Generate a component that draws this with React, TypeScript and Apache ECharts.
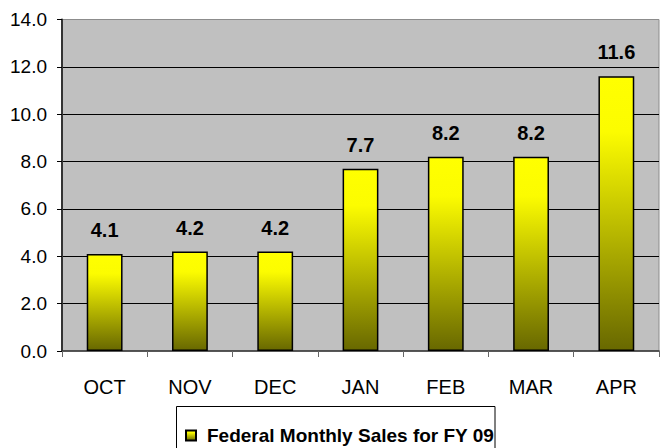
import React, { useEffect, useRef } from "react";
import * as echarts from "echarts";

const categories = ["OCT", "NOV", "DEC", "JAN", "FEB", "MAR", "APR"];
const salesValues = [4.1, 4.2, 4.2, 7.7, 8.2, 8.2, 11.6];
const seriesName = "Federal Monthly Sales for FY 09";
const yMin = 0;
const yMax = 14;
const yInterval = 2;

const FONT = "'Liberation Sans Narrow', 'Arial Narrow', 'Liberation Sans', Arial, sans-serif";

export default function App() {
  const ref = useRef<HTMLDivElement>(null);
  useEffect(() => {
    if (!ref.current) return;
    const chart = echarts.init(ref.current, undefined, { renderer: "svg" });
    const barGradient = new echarts.graphic.LinearGradient(0, 0, 0, 1, [
      { offset: 0, color: "#FFFF00" },
      { offset: 0.2, color: "#FCFC00" },
      { offset: 1, color: "#686800" },
    ]);
    chart.setOption({
      animation: false,
      backgroundColor: "#FFFFFF",
      textStyle: { fontFamily: FONT },
      grid: {
        left: 62,
        right: 13,
        top: 19.5,
        bottom: 97,
        show: true,
        backgroundColor: "#C0C0C0",
        borderColor: "#8C8C8C",
        borderWidth: 1,
      },
      legend: {
        show: true,
        left: 185,
        top: 426,
        padding: 0,
        itemWidth: 10,
        itemHeight: 10,
        icon: "rect",
        selectedMode: false,
        data: [seriesName],
        textStyle: {
          fontFamily: FONT,
          fontSize: 19,
          fontWeight: "bold",
          color: "#000000",
          padding: [0, 0, 0, 6],
        },
      },
      graphic: [
        {
          type: "rect",
          shape: { x: 176.5, y: 406.5, width: 318.5, height: 60 },
          style: { fill: "none", stroke: "#000000", lineWidth: 1 },
          silent: true,
          z: 1,
        },
      ],
      xAxis: {
        type: "category",
        data: categories,
        boundaryGap: true,
        axisLine: { show: true, lineStyle: { color: "#333333", width: 1.5 } },
        axisTick: {
          show: true,
          alignWithLabel: false,
          interval: 0,
          length: 6,
          lineStyle: { color: "#666666", width: 1 },
        },
        axisLabel: {
          fontFamily: FONT,
          fontSize: 20,
          color: "#000000",
          margin: 26,
        },
        splitLine: { show: false },
      },
      yAxis: {
        type: "value",
        min: yMin,
        max: yMax,
        interval: yInterval,
        axisLine: { show: true, lineStyle: { color: "#333333", width: 2 } },
        axisTick: {
          show: true,
          inside: false,
          length: 5,
          lineStyle: { color: "#000000", width: 1 },
        },
        axisLabel: {
          fontFamily: FONT,
          fontSize: 19,
          color: "#000000",
          margin: 15,
          formatter: (v: number) => v.toFixed(1),
        },
        splitLine: {
          show: true,
          showMinLine: false,
          showMaxLine: false,
          lineStyle: { color: "#000000", width: 1 },
        },
      },
      series: [
        {
          name: seriesName,
          type: "bar",
          data: salesValues,
          barWidth: "42%",
          itemStyle: {
            color: barGradient,
            borderColor: "#000000",
            borderWidth: 1.5,
          },
          label: {
            show: true,
            position: "top",
            distance: 14,
            fontFamily: FONT,
            fontSize: 20,
            fontWeight: "bold",
            color: "#000000",
            formatter: (p: any) => Number(p.value).toFixed(1),
          },
        },
      ],
    });
    return () => chart.dispose();
  }, []);
  return (
    <div
      ref={ref}
      style={{ position: "fixed", left: 0, top: 0, width: 672, height: 448 }}
    />
  );
}
